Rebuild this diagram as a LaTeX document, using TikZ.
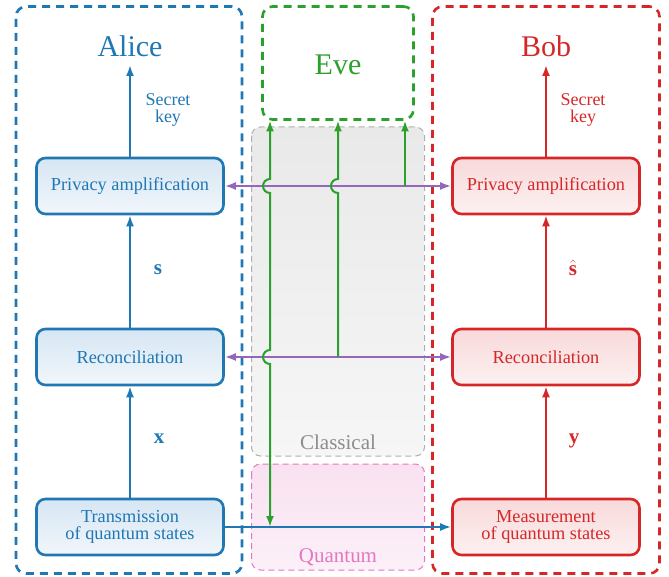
\documentclass[tikz,border=0pt]{standalone}
\usepackage{fontspec}
\setmainfont{Liberation Serif}
\usetikzlibrary{arrows.meta,calc}
\definecolor{cblue}{HTML}{1F77B4}
\definecolor{cred}{HTML}{D62728}
\definecolor{cgreen}{HTML}{2CA02C}
\definecolor{cpurple}{HTML}{9467BD}
\definecolor{cpink}{HTML}{E377C2}
\definecolor{cgray}{HTML}{8C8C8C}
\definecolor{blueT}{HTML}{D6E6F3}
\definecolor{blueB}{HTML}{F1F6FB}
\definecolor{redT}{HTML}{F8D9DA}
\definecolor{redB}{HTML}{FDF1F1}
\definecolor{grayT}{HTML}{E9E9E9}
\definecolor{grayB}{HTML}{F6F6F6}
\definecolor{pinkT}{HTML}{F9E1F1}
\definecolor{pinkB}{HTML}{FCF0F8}
\tikzset{
  procbox/.style={line width=2.6pt, rounded corners=9pt, minimum width=187pt,
    minimum height=56pt, align=center, inner sep=0pt,
    font=\fontsize{18.3}{17}\selectfont},
  abox/.style={procbox, draw=cblue, top color=blueT, bottom color=blueB, text=cblue},
  bbox/.style={procbox, draw=cred, top color=redT, bottom color=redB, text=cred},
  partybox/.style={line width=2.6pt, dash pattern=on 8pt off 6pt, rounded corners=10pt, inner sep=0pt},
  chanbox/.style={line width=1pt, dash pattern=on 6pt off 4pt, rounded corners=9pt},
  bigname/.style={font=\fontsize{30}{30}\selectfont},
  keylabel/.style={align=center, font=\fontsize{18}{16.5}\selectfont},
  varlabel/.style={font=\fontsize{21}{21}\selectfont},
  chanlabel/.style={font=\fontsize{21}{21}\selectfont},
  flow/.style={line width=2pt, -{Latex[length=11pt,width=8pt]}},
  twoway/.style={line width=2pt, {Latex[length=11pt,width=8pt]}-{Latex[length=11pt,width=8pt]}},
}
\begin{document}
\begin{tikzpicture}[x=1pt,y=-1pt]
\useasboundingbox (0,0) rectangle (669,577);

% channel regions
\path[chanbox, draw=cgray!70, top color=grayT, bottom color=grayB] (251.5,127) rectangle (424.5,456);
\path[chanbox, draw=cpink, top color=pinkT, bottom color=pinkB] (251.5,464) rectangle (424.5,570);
\node[chanlabel, text=cgray] (classL) at (338,442) {Classical};
\node[chanlabel, text=cpink] (quantL) at (338,557) {Quantum};

% party boxes
\node[partybox, draw=cblue, minimum width=226pt, minimum height=567pt] (aliceBox) at (129,290) {};
\node[partybox, draw=cred, minimum width=227pt, minimum height=567pt] (bobBox) at (546,290) {};
\node[partybox, draw=cgreen, minimum width=151pt, minimum height=113pt] (eveBox) at (338,63) {};

\node[bigname, text=cblue] (aliceL) at (130,46) {Alice};
\node[bigname, text=cred] (bobL) at (546,46) {Bob};
\node[bigname, text=cgreen] (eveL) at (338,65) {Eve};

% Alice
\node[abox] (aPA) at (130,186) {Privacy amplification};
\node[abox] (aRC) at (130,357) {Reconciliation};
\node[abox] (aTR) at (130,527) {Transmission\\of quantum states};
% Bob
\node[bbox] (bPA) at (546,186) {Privacy amplification};
\node[bbox] (bRC) at (546,357) {Reconciliation};
\node[bbox] (bME) at (546,527) {Measurement\\of quantum states};

\coordinate (aKey) at (130,65);
\coordinate (bKey) at (546,65);

\draw[flow, cblue] (aTR) -- (aRC);
\draw[flow, cblue] (aRC) -- (aPA);
\draw[flow, cblue] (aPA) -- (aKey);
\draw[flow, cred] (bME) -- (bRC);
\draw[flow, cred] (bRC) -- (bPA);
\draw[flow, cred] (bPA) -- (bKey);

\node[keylabel, text=cblue] (aKeyL) at (168,110) {Secret\\key};
\node[keylabel, text=cred] (bKeyL) at (583,110) {Secret\\key};
\node[varlabel, text=cblue] (aS) at (158,270) {$\mathbf{s}$};
\node[varlabel, text=cblue] (aX) at (159,439) {$\mathbf{x}$};
\node[varlabel, text=cred] (bS) at (573,268) {$\hat{\mathbf{s}}$};
\node[varlabel, text=cred] (bY) at (574,441) {$\mathbf{y}$};

% channels
\draw[flow, cblue] (aTR.east) -- (bME.west);
\draw[twoway, cpurple] (aPA.east) -- (bPA.west);
\draw[twoway, cpurple] (aRC.east) -- (bRC.west);

% Eve taps
\coordinate (e1top) at (270,120.5);
\coordinate (e2top) at (338,120.5);
\coordinate (e3top) at (405,120.5);
\coordinate (e1bot) at (270,527);
\coordinate (e2bot) at (338,357);
\coordinate (e3bot) at (405,186);
\draw[twoway, cgreen] (e1top) -- (270,179) arc[start angle=270, end angle=90, radius=7]
   -- (270,350) arc[start angle=270, end angle=90, radius=7] -- (e1bot);
\draw[flow, cgreen] (e2bot) -- (338,193) arc[start angle=90, end angle=270, radius=7] -- (e2top);
\draw[flow, cgreen] (e3bot) -- (e3top);
\end{tikzpicture}
\end{document}
